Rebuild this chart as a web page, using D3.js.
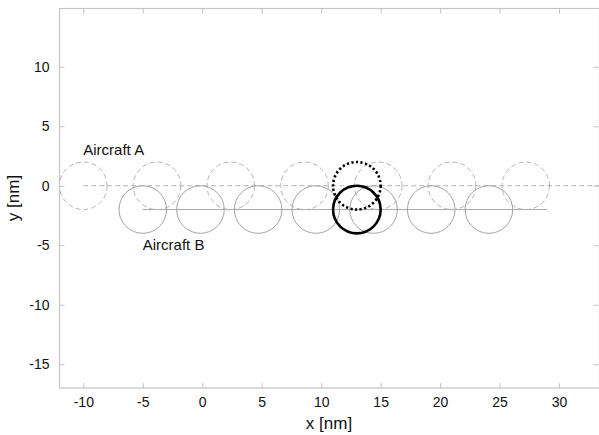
<!DOCTYPE html>
<html lang="en">
<head>
  <meta charset="utf-8">
  <title>Aircraft A / B</title>
  <script type="text/javascript" src="https://cdn.jsdelivr.net/npm/d3@7/dist/d3.min.js"></script>
  <style>
    body { margin: 0; background: #fff; }
    text { font-family: "Liberation Sans", Arial, Helvetica, sans-serif; }
  </style>
</head>
<body>
  <script type="text/javascript">

  // positions (nm) of each aircraft at successive time steps
  var aX = [-10, -3.8, 2.4, 8.6, 14.8, 21.0, 27.2];
  var aY = [0, 0, 0, 0, 0, 0, 0];
  var bX = [-5, -0.15, 4.7, 9.55, 14.4, 19.25, 24.1];
  var bY = [-2, -2, -2, -2, -2, -2, -2];

  // conflict positions (bold)
  var conflictA = [13, 0];
  var conflictB = [13, -2];

  // track lines
  var trackA = [[-10, 0], [34, 0]];
  var trackB = [[-5, -2], [29, -2]];

  var radius = 2; // protection zone radius, nm

  var xTicks = [-10, -5, 0, 5, 10, 15, 20, 25, 30];
  var yTicks = [-15, -10, -5, 0, 5, 10];

  var width = 599, height = 435;
  // plot box (note: "top" is reserved on window, hence the names)
  var mLeft = 59.5, mRight = 599.5, mTop = 8.5, mBottom = 388;

  var svg = d3.select("body").append("svg")
    .attr("width", width)
    .attr("height", height);

  var x = d3.scaleLinear().domain([-12, 33.4]).range([mLeft, mRight]);
  var y = d3.scaleLinear().domain([-17, 14.9]).range([mBottom, mTop]);
  var rPx = x(radius) - x(0);

  svg.append("clipPath").attr("id", "clip")
    .append("rect")
    .attr("x", mLeft).attr("y", mTop)
    .attr("width", mRight - mLeft).attr("height", mBottom - mTop);

  var plot = svg.append("g").attr("clip-path", "url(#clip)");
  var line = d3.line().x(d => x(d[0])).y(d => y(d[1]));

  var boxColor = "#c4c4c4";
  var fmt = d => String(d); // plain hyphen for negatives, like the original

  // axes, ticks pointing inward
  var gx = svg.append("g")
    .attr("transform", `translate(0,${mBottom})`)
    .call(d3.axisBottom(x).tickValues(xTicks).tickFormat(fmt).tickSizeInner(-5).tickSizeOuter(0).tickPadding(9));
  var gxTop = svg.append("g")
    .attr("transform", `translate(0,${mTop})`)
    .call(d3.axisTop(x).tickValues(xTicks).tickSizeInner(-5).tickSizeOuter(0).tickFormat(""));
  var gy = svg.append("g")
    .attr("transform", `translate(${mLeft},0)`)
    .call(d3.axisLeft(y).tickValues(yTicks).tickFormat(fmt).tickSizeInner(-5).tickSizeOuter(0).tickPadding(10));
  var gyRight = svg.append("g")
    .attr("transform", `translate(${mRight - 1},0)`)
    .call(d3.axisRight(y).tickValues(yTicks).tickSizeInner(-5).tickSizeOuter(0).tickFormat(""));

  [gx, gxTop, gy, gyRight].forEach(g => {
    g.select(".domain").remove();
    g.selectAll(".tick line").attr("stroke", boxColor);
    g.selectAll(".tick text")
      .attr("fill", "#111")
      .style("font-size", "14px")
      .style("font-family", '"Liberation Sans", Arial, Helvetica, sans-serif');
  });

  svg.append("rect")
    .attr("x", mLeft).attr("y", mTop)
    .attr("width", mRight - mLeft).attr("height", mBottom - mTop)
    .attr("fill", "none")
    .attr("stroke", boxColor)
    .attr("stroke-width", 1.2);

  // tracks
  plot.append("path").datum(trackA)
    .attr("d", line)
    .attr("fill", "none")
    .attr("stroke", "#b4b4b4")
    .attr("stroke-width", 1.2)
    .attr("stroke-dasharray", "5,3");

  plot.append("path").datum(trackB)
    .attr("d", line)
    .attr("fill", "none")
    .attr("stroke", "#a8a8a8")
    .attr("stroke-width", 1);

  // aircraft A (dashed circles)
  plot.append("g").selectAll("circle")
    .data(aX.map((v, i) => [v, aY[i]]))
    .enter().append("circle")
    .attr("cx", d => x(d[0]))
    .attr("cy", d => y(d[1]))
    .attr("r", rPx)
    .attr("fill", "none")
    .attr("stroke", "#b4b4b4")
    .attr("stroke-width", 1)
    .attr("stroke-dasharray", "5,3");

  // aircraft B (solid circles)
  plot.append("g").selectAll("circle")
    .data(bX.map((v, i) => [v, bY[i]]))
    .enter().append("circle")
    .attr("cx", d => x(d[0]))
    .attr("cy", d => y(d[1]))
    .attr("r", rPx)
    .attr("fill", "none")
    .attr("stroke", "#a4a4a4")
    .attr("stroke-width", 1);

  // conflict positions
  plot.append("circle")
    .attr("cx", x(conflictA[0])).attr("cy", y(conflictA[1]))
    .attr("r", rPx)
    .attr("fill", "none")
    .attr("stroke", "#000")
    .attr("stroke-width", 2.6)
    .attr("stroke-dasharray", "2.2,2.4");

  plot.append("circle")
    .attr("cx", x(conflictB[0])).attr("cy", y(conflictB[1]))
    .attr("r", rPx)
    .attr("fill", "none")
    .attr("stroke", "#000")
    .attr("stroke-width", 2.6);

  // labels
  svg.append("text")
    .attr("x", x(aX[0]))
    .attr("y", 155)
    .attr("font-size", "15px")
    .attr("fill", "#111")
    .text("Aircraft A");

  svg.append("text")
    .attr("x", x(bX[0]))
    .attr("y", 250)
    .attr("font-size", "15px")
    .attr("fill", "#111")
    .text("Aircraft B");

  svg.append("text")
    .attr("x", 329)
    .attr("y", 429)
    .attr("text-anchor", "middle")
    .attr("font-size", "17px")
    .attr("fill", "#111")
    .text("x [nm]");

  svg.append("text")
    .attr("transform", "translate(19,198) rotate(-90)")
    .attr("text-anchor", "middle")
    .attr("font-size", "17px")
    .attr("fill", "#111")
    .text("y [nm]");

  </script>
</body>
</html>
